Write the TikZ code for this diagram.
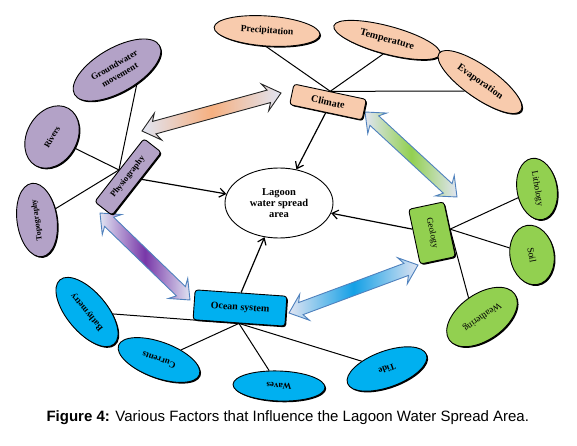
\documentclass[tikz,border=0pt]{standalone}
\usepackage{fontspec}
\setmainfont{Liberation Serif}
\newfontfamily\capfont{Liberation Sans}
\usetikzlibrary{shapes.geometric,shapes.arrows,shadows,arrows.meta,calc}

\definecolor{climfill}{RGB}{248,203,173}
\definecolor{climdeep}{RGB}{246,176,128}
\definecolor{physfill}{RGB}{179,162,199}
\definecolor{physdeep}{RGB}{120,55,168}
\definecolor{geofill}{RGB}{146,208,80}
\definecolor{oceanfill}{RGB}{0,176,240}
\definecolor{oceandeep}{RGB}{20,160,230}
\definecolor{arrowline}{RGB}{79,129,189}
\definecolor{arrowpale}{RGB}{224,228,242}

\newcommand{\lbl}[1]{\bfseries\fontsize{#1}{11}\selectfont}
\newcommand{\thinlbl}[1]{\mdseries\fontsize{#1}{11}\selectfont}

\begin{document}
\begin{tikzpicture}[x=1pt, y=-1pt,
					factor/.style={draw, line width=0.9pt, rounded corners=3pt, inner sep=1pt, font=\lbl{9},
						drop shadow={shadow xshift=1.2pt, shadow yshift=-1.2pt, opacity=1, fill=black}},
					item/.style={ellipse, draw, line width=0.9pt, inner sep=0pt, font=\lbl{9},
						drop shadow={shadow xshift=1.2pt, shadow yshift=-1.2pt, opacity=1, fill=black}},
					link/.style={line width=1pt},
					push/.style={line width=1.2pt, -{Straight Barb[length=6pt, width=9pt]}},
					fatarrow/.style={double arrow, draw=arrowline, line width=0.9pt, inner xsep=0pt, inner ysep=6pt,
						double arrow head extend=7.5pt, double arrow tip angle=80, double arrow head indent=4pt}]
\useasboundingbox (0,0) rectangle (577,446);

% wide arrows between the factors
\coordinate (pcA) at (142,131);
\coordinate (pcB) at (281,93);
\coordinate (cgA) at (365,112);
\coordinate (cgB) at (457,197);
\coordinate (poA) at (100,213);
\coordinate (poB) at (190,300);
\coordinate (ogA) at (289,313);
\coordinate (ogB) at (418,265);

\path let \p1=($(pcB)-(pcA)$), \n1={veclen(\x1,\y1)} in
    (pcA) -- (pcB) node[fatarrow, draw=black!85, sloped, midway, minimum height=\n1,
        left color=arrowpale, right color=arrowpale, middle color=climdeep] {};
\path let \p1=($(cgB)-(cgA)$), \n1={veclen(\x1,\y1)} in
    (cgA) -- (cgB) node[fatarrow, sloped, midway, minimum height=\n1,
        left color=arrowpale, right color=arrowpale, middle color=geofill] {};
\path let \p1=($(poB)-(poA)$), \n1={veclen(\x1,\y1)} in
    (poA) -- (poB) node[fatarrow, sloped, midway, minimum height=\n1,
        left color=arrowpale, right color=arrowpale, middle color=physdeep] {};
\path let \p1=($(ogB)-(ogA)$), \n1={veclen(\x1,\y1)} in
    (ogA) -- (ogB) node[fatarrow, sloped, midway, minimum height=\n1,
        left color=arrowpale, right color=arrowpale, middle color=oceandeep] {};

% climate
\node[factor, fill=climfill, minimum width=74pt, minimum height=21pt, rotate=-12, font=\lbl{10}] (clim) at (328,102) {Climate};
\node[item, fill=climfill, minimum width=106pt, minimum height=30pt, rotate=-4, font=\lbl{9.5}] (precip) at (267,31) {Precipitation};
\node[item, fill=climfill, minimum width=110pt, minimum height=28pt, rotate=-15, font=\lbl{10}] (temp) at (387,40) {Temperature};
\node[item, fill=climfill, minimum width=100pt, minimum height=32pt, rotate=-35, font=\lbl{10}] (evap) at (480,82) {Evaporation};

% physiography
\node[factor, fill=physfill, minimum width=80pt, minimum height=22pt, rotate=52, font=\lbl{8.5}] (phys) at (128,177) {Physiography};
\node[item, fill=physfill, minimum width=98pt, minimum height=44pt, rotate=30, align=center] (ground) at (117,70) {Groundwater\\movement};
\node[item, fill=physfill, minimum width=66pt, minimum height=50pt, rotate=60, font=\lbl{8.5}] (rivers) at (52,137) {Rivers};
\node[item, fill=physfill, minimum width=74pt, minimum height=40pt, rotate=98, font=\lbl{8}] (topo) at (37,220) {Topography};

% geology
\node[factor, fill=geofill, minimum width=56pt, minimum height=36pt, rotate=-78, font=\thinlbl{9}] (geo) at (432,233) {Geology};
\node[item, fill=geofill, minimum width=62pt, minimum height=40pt, rotate=-80, font=\thinlbl{9}] (litho) at (537,189) {Lithology};
\node[item, fill=geofill, minimum width=60pt, minimum height=44pt, rotate=-80, font=\thinlbl{9.5}] (soil) at (532,255) {Soil};
\node[item, fill=geofill, minimum width=80pt, minimum height=46pt, rotate=215, font=\thinlbl{9.5}] (weather) at (482,317) {Weathering};

% ocean system
\node[factor, fill=oceanfill, minimum width=92pt, minimum height=30pt, rotate=-4, font=\lbl{10}] (ocean) at (240,308) {Ocean system};
\node[item, fill=oceanfill, minimum width=84pt, minimum height=40pt, rotate=130] (bathy) at (87,312) {Bathymetry};
\node[item, fill=oceanfill, minimum width=86pt, minimum height=36pt, rotate=160] (curr) at (159,360) {Currents};
\node[item, fill=oceanfill, minimum width=92pt, minimum height=30pt, rotate=178] (waves) at (279,386) {Waves};
\node[item, fill=oceanfill, minimum width=84pt, minimum height=36pt, rotate=200] (tide) at (387,369) {Tide};

\node[ellipse, draw, line width=0.9pt, fill=white, minimum width=108pt, minimum height=70pt,
    align=center, font=\lbl{10.5}] (lagoon) at (279,203) {Lagoon\\water spread\\area};

\draw[link] (clim.north) -- (precip.south);
\draw[link] (clim.north) -- (temp.south);
\draw[link] (clim.north) -- (evap.246);
\draw[link] (phys.north) -- (ground.295);
\draw[link] (phys.north) -- (rivers);
\draw[link] (phys.north) -- (topo);
\draw[link] (geo.north) -- (litho);
\draw[link] (geo.north) -- (soil);
\draw[link] (geo.north) -- (weather.south);
\draw[link] (ocean.south) -- (bathy);
\draw[link] (ocean.south) -- (curr);
\draw[link] (ocean.south) -- (waves);
\draw[link] (ocean.south) -- (tide);

\draw[push] (clim.south) -- (lagoon);
\draw[push] (phys) -- (lagoon);
\draw[push] (geo) -- (lagoon);
\draw[push] (ocean.north) -- (lagoon);

\node[anchor=west, font=\capfont\fontsize{15}{18}\selectfont] (caption) at (43,418)
    {\textbf{Figure 4:} Various Factors that Influence the Lagoon Water Spread Area.};
\end{tikzpicture}
\end{document}
